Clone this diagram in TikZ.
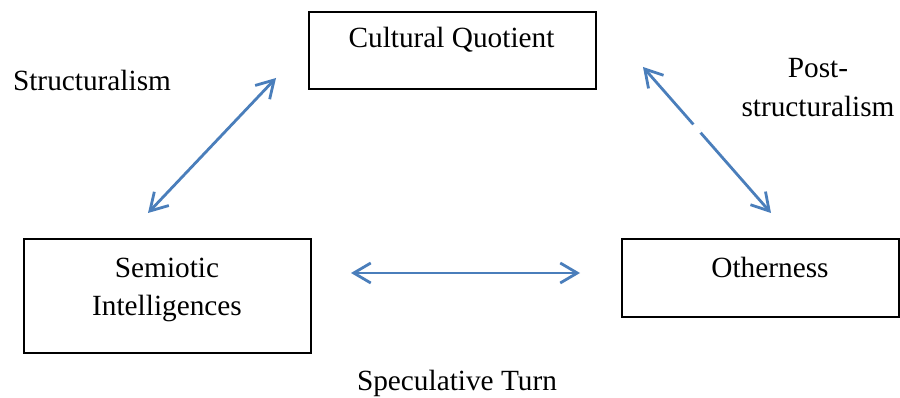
\documentclass[tikz,border=0pt]{standalone}
\usepackage{fontspec}
\setmainfont{Liberation Serif}
\usetikzlibrary{arrows.meta}
\definecolor{arrowblue}{HTML}{4A7EBB}
\tikzset{
  box/.style={draw=black, line width=1.6pt, rectangle, anchor=north west, inner sep=0pt},
  txt/.style={font=\fontsize{29.3}{38}\selectfont, inner sep=0pt, anchor=base, align=center},
  conn/.style={draw=arrowblue, line width=2.8pt, {Straight Barb[length=17pt,width=20pt,line width=2.8pt]}-{Straight Barb[length=17pt,width=20pt,line width=2.8pt]}}
}
\begin{document}
\begin{tikzpicture}[x=1pt,y=-1pt]
\useasboundingbox[fill=white] (0,0) rectangle (900,398);
% boxes
\node[box, minimum width=287pt, minimum height=77pt] (cq) at (308,11) {};
\node[box, minimum width=287pt, minimum height=114pt] (si) at (23,238) {};
\node[box, minimum width=277pt, minimum height=78pt] (ot) at (621,238) {};
% box texts
\node[txt] (cqt) at (451.5,48) {Cultural Quotient};
\node[txt, anchor=north] (sit) at (167,258) {Semiotic\\Intelligences};
\node[txt] (ott) at (770,278) {Otherness};
% labels
\node[txt] (st) at (92,91) {Structuralism};
\node[txt] (ps1) at (818,78) {Post-};
\node[txt] (ps2) at (818,117) {structuralism};
\node[txt] (sp) at (457,390) {Speculative Turn};
% connector ends
\coordinate (a1) at (148,213);
\coordinate (a2) at (276,78);
\coordinate (b1) at (643,67);
\coordinate (b2) at (771,213);
\coordinate (c1) at (351,273);
\coordinate (c2) at (580,273);
\coordinate (g1) at (693.5,124.5);
\coordinate (g2) at (700,133);
\draw[conn] (a1) -- (a2);
\draw[conn] (b1) -- (b2);
\draw[conn] (c1) -- (c2);
\draw[white, line width=4.5pt] (g1) -- (g2);
\end{tikzpicture}
\end{document}
